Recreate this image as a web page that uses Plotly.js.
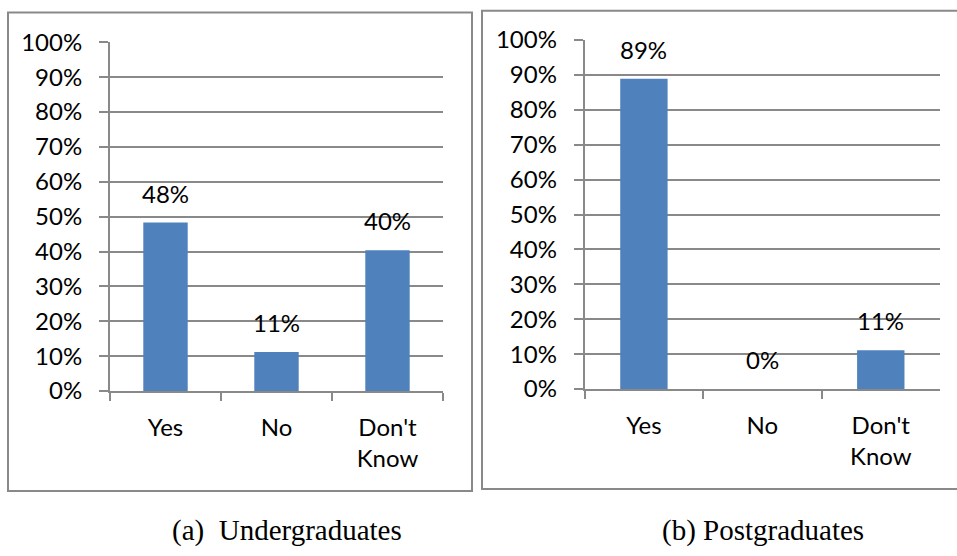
<!DOCTYPE html>
<html>
<head>
<meta charset="utf-8">
<script src="https://cdn.plot.ly/plotly-3.0.1.min.js"></script>
<style>html,body{margin:0;padding:0;background:#fff;}#chart{width:957px;height:556px;}</style>
</head>
<body>
<div id="chart"></div>
<script>
const categories = ["Yes", "No", "Don't<br>Know"];
const undergraduates = [0.483, 0.112, 0.404];
const postgraduates = [0.889, 0.0, 0.111];
const captions = ["(a)\u00a0 Undergraduates", "(b) Postgraduates"];

const W = 957, H = 556;
const px = v => v / W;
const py = v => 1 - v / H;

const gray = '#898989';
const blue = '#4F81BD';
const tickFont = {family: 'Lato, "Open Sans", sans-serif', size: 24, color: '#000'};

const traces = [
  {type: 'bar', x: categories, y: undergraduates, xaxis: 'x', yaxis: 'y',
   marker: {color: blue}, width: 0.4, hoverinfo: 'none'},
  {type: 'bar', x: categories, y: postgraduates, xaxis: 'x2', yaxis: 'y2',
   marker: {color: blue}, width: 0.4, hoverinfo: 'none'}
];

function xax(d) {
  return {domain: d, type: 'category', range: [-0.5, 2.5], showline: true,
    linecolor: gray, linewidth: 2, ticks: 'outside', tickson: 'boundaries',
    ticklen: 8, tickwidth: 2, tickcolor: gray, showgrid: false, zeroline: false,
    tickfont: tickFont, ticklabelstandoff: 14, fixedrange: true};
}
function yax(d) {
  return {domain: d, range: [0, 1], dtick: 0.1, tick0: 0, tickformat: '.0%',
    showgrid: true, gridcolor: gray, gridwidth: 2, showline: true, linecolor: gray,
    linewidth: 2, ticks: 'outside', ticklen: 9, tickwidth: 2, tickcolor: gray,
    zeroline: false, tickfont: tickFont, ticklabelstandoff: 12, fixedrange: true};
}

const annotations = [];
function addLabels(vals, xr, yr) {
  vals.forEach((v, i) => {
    annotations.push({x: categories[i], y: v, xref: xr, yref: yr, yanchor: 'bottom',
      xanchor: 'center', yshift: 13, showarrow: false,
      text: Math.round(v * 100) + '%', font: tickFont});
  });
}
addLabels(undergraduates, 'x', 'y');
addLabels(postgraduates, 'x2', 'y2');

const capFont = {family: '"Liberation Serif", "Times New Roman", serif', size: 29, color: '#000'};
annotations.push({x: px(287), y: py(530), xref: 'paper', yref: 'paper', xanchor: 'center',
  yanchor: 'middle', showarrow: false, text: captions[0], font: capFont});
annotations.push({x: px(763), y: py(530), xref: 'paper', yref: 'paper', xanchor: 'center',
  yanchor: 'middle', showarrow: false, text: captions[1], font: capFont});

const shapes = [
  {type: 'rect', xref: 'paper', yref: 'paper', x0: px(8), x1: px(472), y0: py(491), y1: py(12.5),
   line: {color: gray, width: 2}},
  {type: 'rect', xref: 'paper', yref: 'paper', x0: px(482), x1: px(970), y0: py(489), y1: py(10.7),
   line: {color: gray, width: 2}}
];

const layout = {
  width: W, height: H, autosize: false,
  margin: {l: 0, r: 0, t: 0, b: 0, pad: 0},
  paper_bgcolor: '#fff', plot_bgcolor: 'rgba(0,0,0,0)',
  showlegend: false, bargap: 0.6,
  xaxis: Object.assign(xax([px(110), px(443)]), {anchor: 'y'}),
  yaxis: Object.assign(yax([py(391), py(42.3)]), {anchor: 'x'}),
  xaxis2: Object.assign(xax([px(584.7), px(940)]), {anchor: 'y2'}),
  yaxis2: Object.assign(yax([py(389), py(40)]), {anchor: 'x2'}),
  annotations: annotations,
  shapes: shapes
};

Plotly.newPlot('chart', traces, layout, {staticPlot: true, displayModeBar: false});
</script>
</body>
</html>
